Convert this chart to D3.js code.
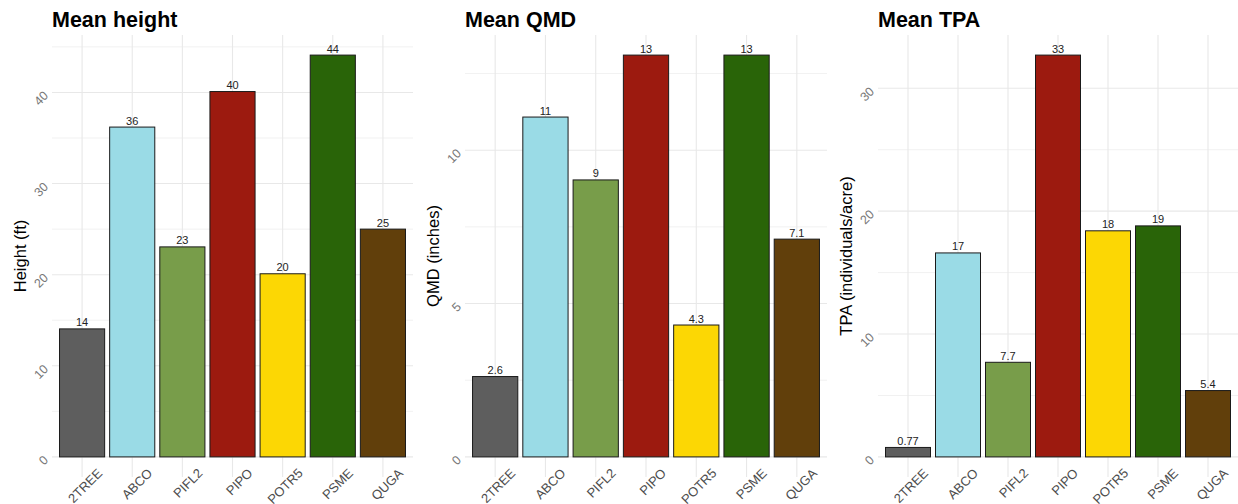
<!DOCTYPE html>
<html>
<head>
<meta charset="utf-8">
<script src="https://cdn.jsdelivr.net/npm/d3@7"></script>
<style>
  html, body { margin: 0; padding: 0; background: #fff; }
  svg { display: block; font-family: "Liberation Sans", Arial, sans-serif; }
</style>
</head>
<body>
<svg id="chart" width="1238" height="504"></svg>
<script>
// ---- Data ----
const categories = ["2TREE", "ABCO", "PIFL2", "PIPO", "POTR5", "PSME", "QUGA"];
const colors = ["#5e5e5e", "#9adbe6", "#789d4a", "#9c1a0f", "#fcd704", "#296408", "#613f0b"];

const heightValues = [14.05, 36.2, 23.05, 40.1, 20.1, 44.1, 25.0];
const qmdValues = [2.62, 11.08, 9.03, 13.1, 4.3, 13.1, 7.1];
const tpaValues = [0.77, 16.6, 7.7, 32.7, 18.4, 18.8, 5.4];

const heightTicks = [0, 10, 20, 30, 40];
const qmdTicks = [0, 5, 10];
const tpaTicks = [0, 10, 20, 30];

const titles = ["Mean height", "Mean QMD", "Mean TPA"];
const yTitles = ["Height (ft)", "QMD (inches)", "TPA (individuals/acre)"];

// ---- Layout ----
const svg = d3.select("#chart");
const panels = [
  { left: 52, right: 413, yTitleX: 20, values: heightValues, ticks: heightTicks, title: titles[0], yTitle: yTitles[0] },
  { left: 465, right: 827, yTitleX: 433, values: qmdValues, ticks: qmdTicks, title: titles[1], yTitle: yTitles[1] },
  { left: 878, right: 1238, yTitleX: 846, values: tpaValues, ticks: tpaTicks, title: titles[2], yTitle: yTitles[2] }
];
const panelTop = 35, panelBottom = 477;
const fmt = d3.format(".2~g");

panels.forEach(p => {
  const g = svg.append("g");
  const max = d3.max(p.values);
  const y = d3.scaleLinear().domain([-0.05 * max, 1.05 * max]).range([panelBottom, panelTop]);
  const x = d3.scalePoint().domain(categories).range([p.left, p.right]).padding(0.6);
  const step = x.step();
  const bw = step * 0.9;

  // minor grid
  const minor = [];
  const d0 = p.ticks[1] - p.ticks[0];
  p.ticks.forEach(t => {
    const m = t + d0 / 2;
    if (y(m) >= panelTop) minor.push(m);
  });
  g.selectAll(".minor").data(minor).enter().append("line")
    .attr("x1", p.left).attr("x2", p.right)
    .attr("y1", d => y(d)).attr("y2", d => y(d))
    .attr("stroke", "#ebebeb").attr("stroke-width", 0.7);
  // major horizontal grid
  g.selectAll(".major").data(p.ticks).enter().append("line")
    .attr("x1", p.left).attr("x2", p.right)
    .attr("y1", d => y(d)).attr("y2", d => y(d))
    .attr("stroke", "#e8e8e8").attr("stroke-width", 1.1);
  // vertical grid
  g.selectAll(".vgrid").data(categories).enter().append("line")
    .attr("x1", d => x(d)).attr("x2", d => x(d))
    .attr("y1", panelTop).attr("y2", panelBottom)
    .attr("stroke", "#e8e8e8").attr("stroke-width", 1.1);

  // bars
  g.selectAll(".bar").data(p.values).enter().append("rect")
    .attr("x", (d, i) => x(categories[i]) - bw / 2)
    .attr("width", bw)
    .attr("y", d => y(d))
    .attr("height", d => y(0) - y(d))
    .attr("fill", (d, i) => colors[i])
    .attr("stroke", "#1a1a1a").attr("stroke-width", 1);

  // value labels
  g.selectAll(".vlab").data(p.values).enter().append("text")
    .attr("x", (d, i) => x(categories[i]))
    .attr("y", d => y(d) - 2.5)
    .attr("text-anchor", "middle")
    .attr("font-size", 11).attr("fill", "#222")
    .text(d => fmt(d));

  // y tick labels
  g.selectAll(".ytick").data(p.ticks).enter().append("text")
    .attr("transform", d => `translate(${p.left - 3},${y(d) + 4}) rotate(-45)`)
    .attr("text-anchor", "end")
    .attr("font-size", 12.5).attr("fill", "#777")
    .text(d => d);

  // x tick labels
  g.selectAll(".xtick").data(categories).enter().append("text")
    .attr("transform", d => `translate(${x(d) + 21},${panelBottom - 3}) rotate(-45)`)
    .attr("text-anchor", "end")
    .attr("font-size", 13).attr("fill", "#4d4d4d")
    .text(d => d);

  // titles
  g.append("text")
    .attr("x", p.left).attr("y", 27)
    .attr("font-size", 21.5).attr("font-weight", "bold").attr("fill", "#000")
    .text(p.title);

  g.append("text")
    .attr("transform", `translate(${p.yTitleX},${(panelTop + panelBottom) / 2}) rotate(-90)`)
    .attr("text-anchor", "middle")
    .attr("dominant-baseline", "central")
    .attr("font-size", 16.5).attr("fill", "#000")
    .text(p.yTitle);
});
</script>
</body>
</html>
